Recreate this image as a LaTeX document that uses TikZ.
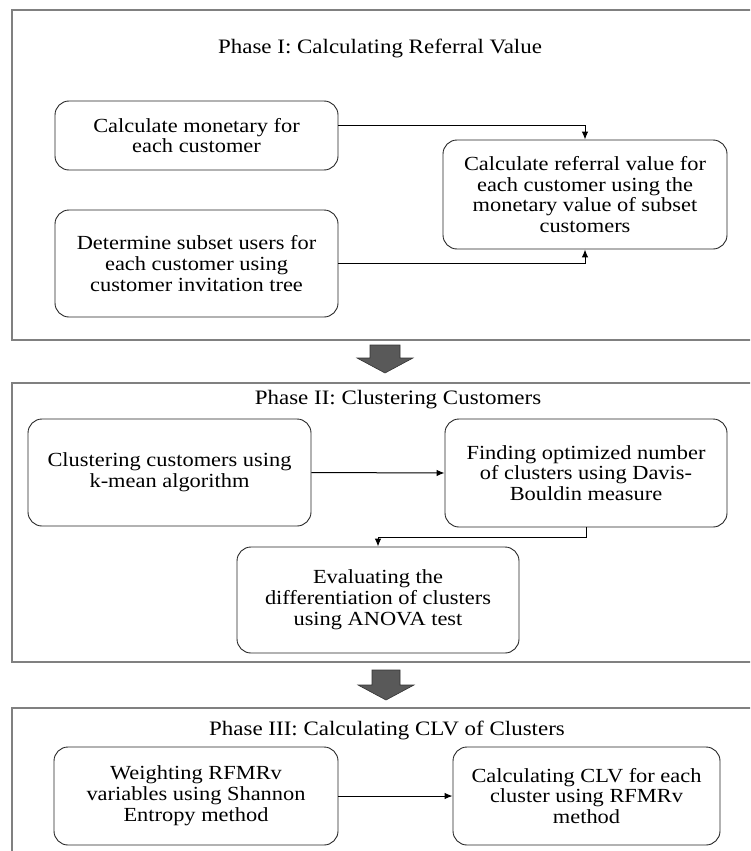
\documentclass[tikz,border=0pt]{standalone}
\usepackage{fontspec}
\setmainfont[FakeStretch=1.12]{Liberation Serif}
\usetikzlibrary{arrows.meta}

\begin{document}
\begin{tikzpicture}[x=1pt, y=-1pt,
        box/.style={draw=black!85, line width=0.9pt, rounded corners=14pt, align=center,
            inner sep=0pt, font=\fontsize{20}{20.8}\selectfont},
        phase/.style={draw=black!50, line width=1.2pt},
        title/.style={font=\fontsize{20.5}{21}\selectfont},
        link/.style={-{Latex[length=8pt,width=6.5pt]}, line width=1pt},
        bigarrow/.style={fill=black!65, draw=black!80, line width=0.6pt}
    ]
    \clip (0,0) rectangle (750,851);

    % phase frames
    \draw[phase] (12,10) rectangle (770,340);
    \draw[phase] (12,383) rectangle (770,662);
    \draw[phase] (12,708) rectangle (770,880);

    % arrows between the phases
    \draw[bigarrow] (370,345) -- (400,345) -- (400,358) -- (413,358) -- (385,373)
        -- (357,358) -- (370,358) -- cycle;
    \draw[bigarrow] (372,670) -- (400,670) -- (400,685) -- (414,685) -- (386,700)
        -- (358,685) -- (372,685) -- cycle;

    % Phase I
    \node[title] (t1) at (380,48) {Phase I: Calculating Referral Value};
    \node[box, minimum width=283pt, minimum height=69pt] (m) at (196.5,135.5)
        {Calculate monetary for\\each customer};
    \node[box, minimum width=283pt, minimum height=107pt] (s) at (196.5,263.5)
        {Determine subset users for\\each customer using\\customer invitation tree};
    \node[box, minimum width=284pt, minimum height=109pt] (r) at (585,194.5)
        {Calculate referral value for\\each customer using the\\monetary value of subset\\customers};

    \draw[link] ([yshift=10.5pt]m.east) -| (r.north);
    \draw[link] (s.east) -| (r.south);

    % Phase II
    \node[title] (t2) at (398,400) {Phase II: Clustering Customers};
    \node[box, minimum width=283pt, minimum height=107pt] (k) at (169.5,472.5)
        {Clustering customers using\\k-mean algorithm};
    \node[box, minimum width=282pt, minimum height=108pt] (d) at (586,473)
        {Finding optimized number\\of clusters using Davis-\\Bouldin measure};
    \node[box, minimum width=282pt, minimum height=106pt] (a) at (378,600)
        {Evaluating the\\differentiation of clusters\\using ANOVA test};

    \draw[link] (k.east) -- (d.west);
    \draw[link] (d.south) -- ++(0,10) -| (a.north);

    % Phase III
    \node[title] (t3) at (387,730) {Phase III: Calculating CLV of Clusters};
    \node[box, minimum width=284pt, minimum height=98pt] (w) at (196,796)
        {Weighting RFMRv\\variables using Shannon\\Entropy method};
    \node[box, minimum width=267pt, minimum height=98pt] (c) at (586.5,796)
        {Calculating CLV for each\\cluster using RFMRv\\method};

    \draw[link] (w.east) -- (c.west);
\end{tikzpicture}
\end{document}
